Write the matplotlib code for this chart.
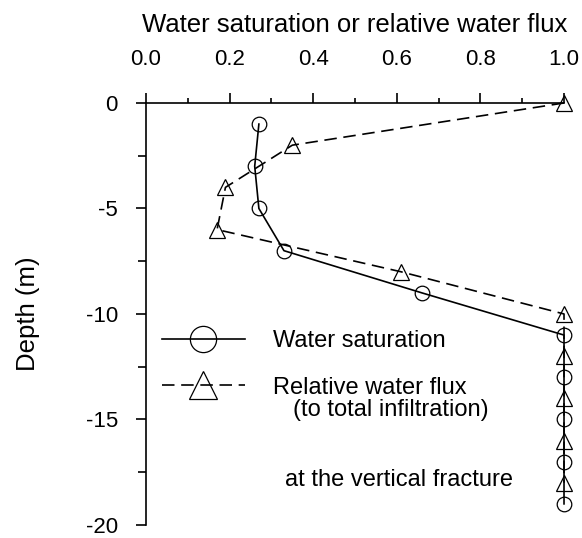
import matplotlib
matplotlib.use("Agg")
import matplotlib.pyplot as plt
from matplotlib.ticker import MultipleLocator

plt.rcParams['font.family'] = ['Liberation Sans', 'DejaVu Sans']
plt.rcParams['font.size'] = 16

sat_depth = [-1, -3, -5, -7, -9, -11, -13, -15, -17, -19]
sat_value = [0.27, 0.26, 0.27, 0.33, 0.66, 1.0, 1.0, 1.0, 1.0, 1.0]

flux_depth = [0, -2, -4, -6, -8, -10, -12, -14, -16, -18]
flux_value = [1.0, 0.35, 0.19, 0.17, 0.61, 1.0, 1.0, 1.0, 1.0, 1.0]

fig = plt.figure(figsize=(5.82, 5.38), dpi=100)
ax = fig.add_axes([0.2509, 0.0242, 0.7182, 0.7844])

ax.plot(sat_value, sat_depth, color='black', lw=1.2, marker='o', ms=10.5,
        mfc='none', mec='black', mew=0.9, clip_on=False, label='Water saturation', zorder=3)
ax.plot(flux_value, flux_depth, color='black', lw=1.2, ls=(0, (7.5, 4)), marker='^', ms=11.5,
        mfc='none', mec='black', mew=0.9, clip_on=False, label='Relative water flux', zorder=3)

ax.set_xlim(0, 1)
ax.set_ylim(-20, 0)
ax.xaxis.tick_top()
ax.xaxis.set_label_position('top')
ax.spines['right'].set_visible(False)
ax.spines['bottom'].set_visible(False)
ax.spines['top'].set_linewidth(1.2)
ax.spines['left'].set_linewidth(1.2)

ax.xaxis.set_minor_locator(MultipleLocator(0.1))
ax.yaxis.set_minor_locator(MultipleLocator(2.5))
ax.set_xticks([0, 0.2, 0.4, 0.6, 0.8, 1.0])
ax.set_xticklabels(['0.0', '0.2', '0.4', '0.6', '0.8', '1.0'])
ax.set_yticks([0, -5, -10, -15, -20])
ax.set_yticklabels(['0', '-5', '-10', '-15', '-20'])
ax.tick_params(which='major', direction='out', length=7.2, width=1.2)
ax.tick_params(axis='x', which='major', pad=16.5)
ax.tick_params(axis='y', which='major', pad=13)
ax.tick_params(axis='x', which='minor', direction='out', length=3.6, width=1.2)
ax.tick_params(axis='y', which='minor', direction='out', length=5.5, width=1.2)
ax.tick_params(axis='x', which='both', top=True, bottom=False)
ax.tick_params(axis='y', which='both', left=True, right=False)

ax.set_xlabel('Water saturation or relative water flux', labelpad=12, fontsize=18.5)
ax.set_ylabel('Depth (m)', labelpad=33, fontsize=18.5)

ax.legend(loc='center left', bbox_to_anchor=(0.038, 0.381), frameon=False,
          borderpad=0, borderaxespad=0, handlelength=3.5, handletextpad=1.2,
          labelspacing=1.05, markerscale=1.8, fontsize=17)

ax.text(0.352, 0.273, '(to total infiltration)', transform=ax.transAxes, va='center', fontsize=17)
ax.text(0.333, 0.107, 'at the vertical fracture', transform=ax.transAxes, va='center', fontsize=17)

fig.savefig('out.png', dpi=100)
